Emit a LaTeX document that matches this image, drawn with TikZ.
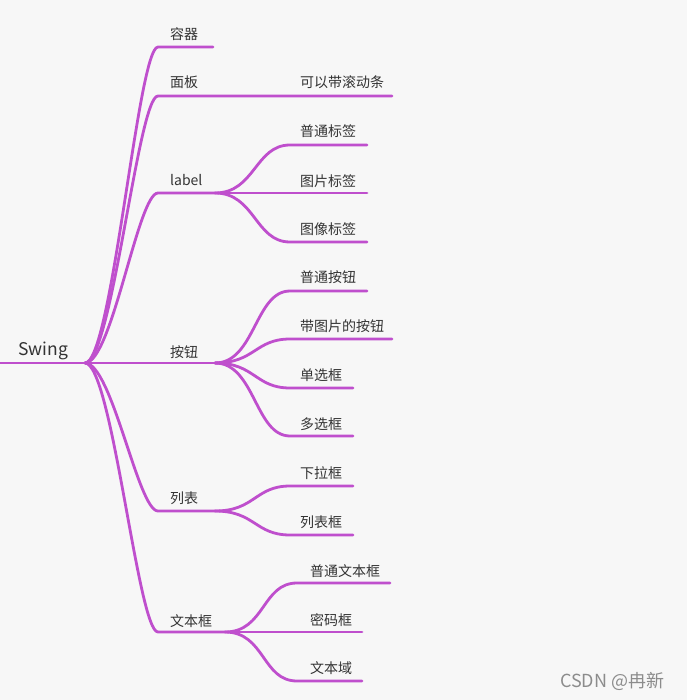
\documentclass[tikz,border=0pt]{standalone}
\usepackage{fontspec}
\setmainfont{Noto Sans CJK SC}
\definecolor{branch}{HTML}{BF4FCD}
\definecolor{bg}{HTML}{F7F7F7}
\definecolor{txt}{HTML}{333333}
\begin{document}
\begin{tikzpicture}[x=1pt,y=-1pt,
  br/.style={draw=branch,line width=2.8pt,line cap=round},
  lbl/.style={anchor=west,inner sep=0pt,text=txt,font=\fontsize{14}{16}\selectfont},
  root/.style={anchor=west,inner sep=0pt,text=txt,font=\fontsize{17.5}{19}\selectfont}]
\fill[bg] (0,0) rectangle (687,700);
\useasboundingbox (0,0) rectangle (687,700);

% root
\node[root] (swing) at (18,351) {Swing};
\coordinate (r0) at (0,363);
\coordinate (hub) at (85,363);
\draw[br] (r0) -- (hub);

% level 1 coordinates
\coordinate (a1) at (158,47);   \coordinate (a2) at (213,47);
\coordinate (b1) at (158,96);   \coordinate (b2) at (392,96);
\coordinate (c1) at (158,193);  \coordinate (cf) at (215,193);
\coordinate (d1) at (158,363);  \coordinate (df) at (215,363);
\coordinate (e1) at (158,511);  \coordinate (ef) at (215,511);
\coordinate (f1) at (158,632);  \coordinate (ff) at (225,632);

\draw[br] (hub) .. controls (112,363) and (138,47) .. (a1) -- (a2);
\draw[br] (hub) .. controls (112,363) and (138,96) .. (b1) -- (b2);
\draw[br] (hub) .. controls (112,363) and (138,193) .. (c1) -- (cf);
\draw[br] (hub) -- (df);
\draw[br] (hub) .. controls (112,363) and (138,511) .. (e1) -- (ef);
\draw[br] (hub) .. controls (112,363) and (138,632) .. (f1) -- (ff);

\node[lbl] (n1) at (170,34) {容器};
\node[lbl] (n2) at (170,82) {面板};
\node[lbl] (n3) at (170,180) {label};
\node[lbl] (n4) at (170,352) {按钮};
\node[lbl] (n5) at (170,498) {列表};
\node[lbl] (n6) at (170,621) {文本框};

% panel child
\node[lbl] (m1) at (300,82) {可以带滚动条};

% label children
\coordinate (c2a) at (290,145); \coordinate (c2b) at (367,145);
\coordinate (c3a) at (290,193); \coordinate (c3b) at (367,193);
\coordinate (c4a) at (290,242); \coordinate (c4b) at (367,242);
\draw[br] (cf) .. controls (255,193) and (255,145) .. (c2a) -- (c2b);
\draw[br] (cf) -- (c3b);
\draw[br] (cf) .. controls (255,193) and (255,242) .. (c4a) -- (c4b);
\node[lbl] (l1) at (300,131) {普通标签};
\node[lbl] (l2) at (300,181) {图片标签};
\node[lbl] (l3) at (300,229) {图像标签};

% button children
\coordinate (d2a) at (290,291); \coordinate (d2b) at (367,291);
\coordinate (d3a) at (290,339); \coordinate (d3b) at (392,339);
\coordinate (d4a) at (290,388); \coordinate (d4b) at (353,388);
\coordinate (d5a) at (290,436); \coordinate (d5b) at (353,436);
\draw[br] (df) .. controls (255,363) and (255,291) .. (d2a) -- (d2b);
\draw[br] (df) .. controls (255,363) and (255,339) .. (d3a) -- (d3b);
\draw[br] (df) .. controls (255,363) and (255,388) .. (d4a) -- (d4b);
\draw[br] (df) .. controls (255,363) and (255,436) .. (d5a) -- (d5b);
\node[lbl] (k1) at (300,277) {普通按钮};
\node[lbl] (k2) at (300,326) {带图片的按钮};
\node[lbl] (k3) at (300,375) {单选框};
\node[lbl] (k4) at (300,424) {多选框};

% list children
\coordinate (e2a) at (290,486); \coordinate (e2b) at (353,486);
\coordinate (e3a) at (290,535); \coordinate (e3b) at (353,535);
\draw[br] (ef) .. controls (255,511) and (255,486) .. (e2a) -- (e2b);
\draw[br] (ef) .. controls (255,511) and (255,535) .. (e3a) -- (e3b);
\node[lbl] (j1) at (300,473) {下拉框};
\node[lbl] (j2) at (300,522) {列表框};

% textbox children
\coordinate (f2a) at (297,583); \coordinate (f2b) at (390,583);
\coordinate (f3b) at (362,632);
\coordinate (f4a) at (297,681); \coordinate (f4b) at (362,681);
\draw[br] (ff) .. controls (265,632) and (262,583) .. (f2a) -- (f2b);
\draw[br] (ff) -- (f3b);
\draw[br] (ff) .. controls (265,632) and (262,681) .. (f4a) -- (f4b);
\node[lbl] (t1) at (310,571) {普通文本框};
\node[lbl] (t2) at (310,620) {密码框};
\node[lbl] (t3) at (310,668) {文本域};

% watermark
\node[anchor=west,inner sep=0pt,text=black!45,font=\fontsize{18}{20}\selectfont] (wm) at (560,681) {CSDN @冉新};
\end{tikzpicture}
\end{document}
